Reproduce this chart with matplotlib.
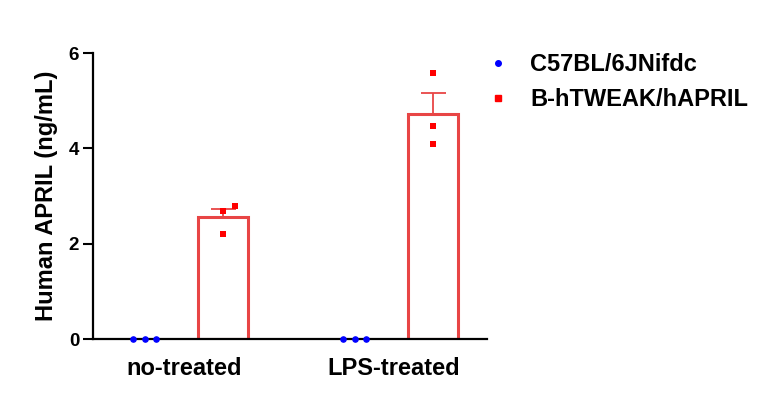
import numpy as np
import matplotlib.pyplot as plt
from matplotlib.lines import Line2D

plt.rcParams['font.family'] = ['Liberation Sans', 'DejaVu Sans']
plt.rcParams['font.weight'] = 'bold'

groups = ['no-treated', 'LPS-treated']
series = ['C57BL/6JNifdc', 'B-hTWEAK/hAPRIL']

# individual animals (ng/mL)
wt_vals = [[0.0, 0.0, 0.0], [0.0, 0.0, 0.0]]
ko_vals = [[2.68, 2.79, 2.20], [5.58, 4.47, 4.09]]

wt_color = '#0000ff'
ko_color = '#ff0000'
bar_edge = '#e84545'

fig = plt.figure(figsize=(7.63, 3.97), dpi=100)
ax = fig.add_axes([0.122, 0.146, 0.516, 0.72])

x = np.arange(len(groups))
off = 0.186
width = 0.238
# horizontal scatter of the points inside each bar
jit = [[0.0, 0.055, 0.0], [0.0, 0.0, 0.0]]

for i in range(len(groups)):
    # wild type: points only
    ax.scatter(x[i] - off + np.array([-0.055, 0.0, 0.055]), wt_vals[i], s=14,
               color=wt_color, marker='o', zorder=4, clip_on=False)

    vals = np.array(ko_vals[i])
    mean = vals.mean()
    sem = vals.std(ddof=1) / np.sqrt(len(vals))
    ax.bar(x[i] + off, mean, width=width, facecolor='white', edgecolor=bar_edge,
           linewidth=2.2, zorder=2)
    ax.errorbar(x[i] + off, mean, yerr=[[0], [sem]], color=bar_edge, capsize=9,
                elinewidth=1.3, capthick=1.3, zorder=3)
    ax.scatter(x[i] + off + np.array(jit[i]), vals, s=22, color=ko_color, marker='s',
               zorder=4, linewidths=0)

ax.set_xlim(-0.433, 1.443)
ax.set_ylim(0, 6)
ax.set_yticks([0, 2, 4, 6])
ax.set_xticks(x)
ax.set_xticklabels(groups, fontsize=17, fontweight='bold')
ax.tick_params(axis='x', length=0, pad=13)
ax.tick_params(axis='y', length=7, width=1.5, labelsize=13.5, pad=3)
for lab in ax.get_yticklabels():
    lab.set_fontweight('bold')
ax.set_ylabel('Human APRIL (ng/mL)', fontsize=17, fontweight='bold', labelpad=8)

for s in ['top', 'right']:
    ax.spines[s].set_visible(False)
ax.spines['left'].set_linewidth(1.6)
ax.spines['bottom'].set_linewidth(1.6)

handles = [Line2D([], [], linestyle='none', marker='o', color=wt_color, markersize=4),
           Line2D([], [], linestyle='none', marker='s', color=ko_color, markersize=5)]
fig.legend(handles, series, loc='upper left', bbox_to_anchor=(0.602, 0.92),
           frameon=False, prop={'size': 17, 'weight': 'bold'},
           handletextpad=0.6, labelspacing=0.5, handlelength=1.5)

fig.savefig('out.png', dpi=100)
